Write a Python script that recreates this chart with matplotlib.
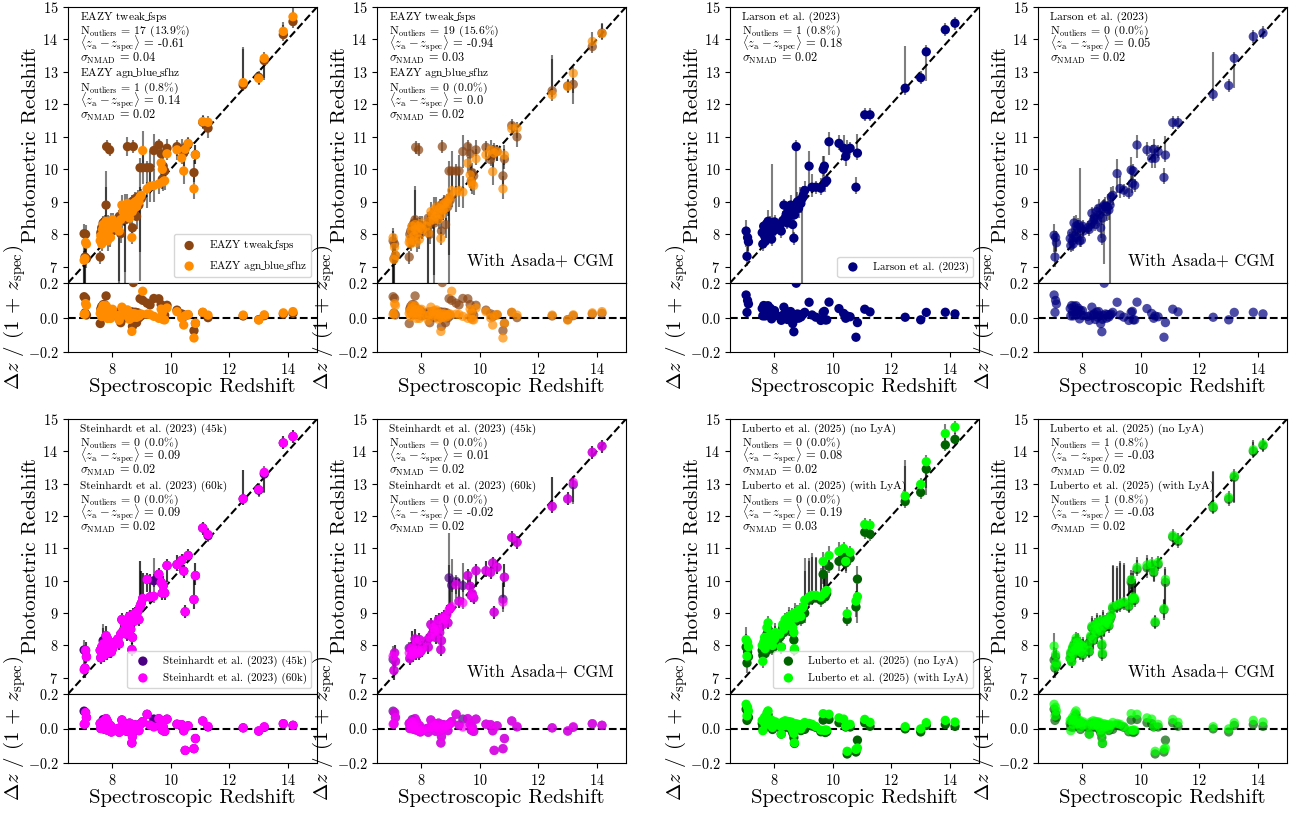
import numpy as np
import matplotlib
matplotlib.use('Agg')
import matplotlib.pyplot as plt

plt.rcParams['font.family'] = 'serif'
plt.rcParams['font.serif'] = ['cmr10']
plt.rcParams['mathtext.fontset'] = 'cm'
plt.rcParams['axes.formatter.use_mathtext'] = True
plt.rcParams['axes.unicode_minus'] = True

# spectroscopic redshifts (shared by all panels)
z_spec = [7.05, 7.08, 7.10, 7.13, 7.60, 7.62, 7.65, 7.68, 7.70, 7.73, 7.76, 7.80, 7.82, 7.85, 7.88,
          7.92, 7.95, 7.98, 8.02, 8.05, 8.20, 8.25, 8.30, 8.34, 8.38, 8.42, 8.46, 8.50, 8.53, 8.57,
          8.60, 8.64, 8.68, 8.70, 8.73, 8.76, 8.80, 8.84, 8.88, 8.92, 8.96, 9.00, 9.05, 9.20, 9.30,
          9.43, 9.60, 9.68, 9.72, 9.75, 9.80, 9.88, 10.22, 10.38, 10.45, 10.50, 10.60, 10.80, 10.85, 11.10,
          11.28, 12.48, 13.01, 13.20, 13.85, 14.18]

# EAZY
eazy_tweak = [8.02, 7.30, 8.00, 7.25, 7.30, 8.05, 8.20, 7.90, 8.35, 8.10, 8.40, 8.90, 10.70, 8.30, 8.05,
              10.60, 8.20, 8.35, 8.10, 8.30, 8.40, 8.55, 8.02, 8.50, 8.70, 8.60, 8.45, 8.80, 10.70, 8.75,
              8.90, 8.65, 9.00, 8.20, 10.70, 8.85, 9.10, 8.55, 9.15, 8.90, 10.05, 9.10, 10.05, 10.05, 10.05,
              10.58, 10.75, 10.48, 9.70, 10.10, 9.95, 10.65, 10.70, 10.62, 10.50, 10.65, 10.78, 9.90, 10.45, 11.45,
              11.27, 12.60, 12.84, 13.35, 14.15, 14.55]
eazy_agn = [7.20, 7.25, 7.75, 7.70, 7.80, 7.95, 7.70, 8.15, 8.30, 7.85, 8.00, 8.40, 8.20, 7.80, 8.10,
            8.35, 7.90, 8.25, 8.45, 8.20, 8.30, 8.10, 8.45, 8.90, 8.70, 8.55, 8.85, 8.65, 8.95, 8.75,
            8.50, 8.85, 7.90, 8.70, 8.95, 8.80, 9.00, 8.85, 9.05, 9.00, 9.15, 9.20, 10.58, 9.40, 9.48,
            9.50, 9.55, 10.20, 10.00, 9.62, 9.65, 10.48, 10.60, 10.35, 9.95, 10.62, 10.80, 9.40, 10.45, 11.47,
            11.45, 12.67, 12.80, 13.42, 14.25, 14.70]
eazy_tweak_asada = [7.80, 7.25, 7.70, 7.35, 7.30, 8.00, 8.10, 7.85, 8.25, 8.00, 8.35, 8.45, 10.68, 8.20, 8.00,
                    10.60, 8.10, 8.25, 8.05, 8.20, 8.30, 8.50, 8.00, 8.40, 8.60, 8.50, 8.35, 8.70, 8.60, 8.65,
                    8.80, 8.55, 8.90, 8.10, 10.70, 8.75, 9.00, 8.30, 9.05, 8.85, 9.95, 9.05, 9.95, 9.95, 9.95,
                    10.55, 10.70, 10.48, 9.65, 9.90, 9.80, 10.60, 10.68, 10.30, 10.45, 10.60, 10.55, 9.80, 10.32, 11.35,
                    11.00, 12.42, 12.57, 12.62, 13.78, 14.20]
eazy_agn_asada = [7.90, 7.22, 7.60, 7.35, 7.75, 7.85, 7.70, 8.10, 8.25, 7.80, 7.95, 8.30, 8.15, 7.75, 8.05,
                  8.25, 7.85, 8.20, 8.35, 8.15, 8.25, 8.05, 8.40, 8.70, 8.60, 8.45, 8.75, 8.55, 8.85, 8.65,
                  8.45, 8.80, 7.87, 8.60, 8.90, 8.75, 8.95, 8.80, 9.00, 8.95, 9.10, 9.15, 9.35, 9.30, 9.35,
                  9.30, 10.19, 9.83, 9.62, 9.55, 9.50, 10.33, 10.45, 10.60, 9.93, 10.50, 10.55, 9.40, 10.44, 11.25,
                  11.27, 12.30, 12.55, 12.96, 13.94, 14.18]
eazy_lo = [1.6, 0.8, 0.3, 0.3, 0.2, 0.3, 0.2, 0.2, 0.3, 0.2, 0.3, 0.6, 0.2, 0.3, 0.2,
           0.2, 0.3, 0.2, 0.2, 0.3, 0.2, 2.0, 0.3, 0.3, 0.2, 0.3, 2.0, 0.2, 0.3, 0.2,
           0.3, 0.2, 0.2, 0.3, 0.2, 0.3, 0.2, 0.4, 0.2, 0.3, 2.6, 0.2, 0.5, 0.6, 0.5,
           0.5, 0.3, 0.4, 0.3, 0.3, 0.3, 0.2, 0.3, 0.2, 0.4, 0.2, 0.3, 0.3, 0.3, 0.2,
           0.3, 0.2, 0.2, 0.6, 0.2, 0.2]
eazy_hi = [0.3, 0.4, 0.3, 0.2, 0.2, 0.3, 0.3, 0.2, 0.2, 0.3, 0.2, 1.05, 0.2, 0.3, 0.2,
           0.2, 0.2, 0.3, 0.2, 0.2, 0.2, 0.2, 0.2, 0.3, 0.2, 0.2, 0.4, 0.3, 0.3, 0.2,
           0.2, 0.3, 0.2, 0.2, 0.2, 0.3, 0.2, 0.2, 0.2, 0.2, 0.3, 0.2, 0.6, 0.2, 0.5,
           0.5, 0.2, 0.3, 0.5, 0.3, 0.2, 0.3, 0.2, 0.3, 0.3, 0.2, 0.2, 0.4, 0.3, 0.2,
           0.2, 1.1, 0.2, 0.2, 0.3, 0.3]

# Larson et al. (2023)
larson = [8.10, 7.32, 7.90, 7.77, 8.05, 7.70, 8.25, 7.95, 7.78, 8.30, 8.05, 8.40, 7.95, 8.20, 8.35,
          7.85, 8.30, 8.10, 8.38, 8.15, 8.25, 8.10, 8.42, 8.90, 8.50, 8.62, 8.35, 8.80, 8.55, 8.90,
          8.70, 8.30, 7.88, 8.60, 8.85, 10.70, 9.00, 8.80, 9.05, 8.95, 9.10, 9.20, 9.35, 10.10, 9.45,
          9.45, 9.42, 10.00, 10.10, 9.60, 9.65, 10.85, 10.80, 10.65, 10.40, 10.60, 10.65, 9.45, 10.50, 11.68,
          11.68, 12.50, 12.82, 13.62, 14.30, 14.50]
larson_asada = [7.97, 7.30, 7.90, 7.74, 7.87, 7.65, 8.04, 7.80, 7.70, 8.35, 7.95, 8.25, 7.90, 8.15, 8.30,
                7.80, 8.20, 7.82, 8.25, 8.10, 8.20, 8.15, 8.30, 8.65, 8.40, 8.50, 8.30, 8.70, 8.45, 8.80,
                8.60, 8.20, 7.88, 8.50, 8.85, 8.90, 8.85, 8.70, 8.85, 8.75, 8.90, 9.15, 9.20, 9.87, 9.41,
                9.36, 9.28, 9.98, 9.57, 9.95, 9.51, 10.75, 10.60, 10.34, 10.62, 10.34, 10.55, 9.75, 10.44, 11.44,
                11.44, 12.31, 12.58, 13.42, 14.09, 14.20]
larson_lo = [0.5, 0.3, 0.4, 0.3, 0.2, 0.2, 0.3, 0.2, 0.2, 0.3, 0.2, 0.3, 0.2, 0.2, 0.3,
             0.2, 0.4, 0.2, 0.3, 0.2, 0.2, 0.2, 0.2, 0.3, 0.2, 0.3, 0.2, 0.3, 0.2, 0.2,
             0.2, 0.3, 0.2, 0.2, 0.3, 1.8, 0.2, 0.3, 0.2, 0.3, 2.6, 0.2, 0.3, 0.6, 0.3,
             0.2, 0.2, 0.3, 0.3, 0.3, 0.2, 0.4, 0.2, 0.3, 0.3, 0.3, 0.2, 0.2, 0.2, 0.2,
             0.2, 0.2, 0.2, 0.9, 0.2, 0.2]
larson_hi = [0.35, 0.3, 0.2, 0.2, 0.2, 0.2, 0.2, 0.3, 0.2, 0.2, 0.2, 0.35, 0.2, 0.3, 0.2,
             0.2, 1.85, 0.2, 0.2, 0.2, 0.2, 0.2, 0.3, 0.2, 0.2, 0.2, 0.3, 0.2, 0.2, 0.3,
             0.2, 0.2, 0.2, 0.2, 0.2, 0.2, 0.3, 0.2, 0.4, 0.2, 0.3, 0.3, 0.3, 0.45, 0.4,
             0.2, 0.3, 0.4, 0.3, 0.2, 0.2, 0.3, 0.25, 0.4, 0.3, 0.3, 0.2, 0.3, 0.6, 0.2,
             0.2, 1.3, 0.2, 0.2, 0.2, 0.2]

# Steinhardt et al. (2023)
stein_60k = [7.25, 7.30, 7.85, 7.65, 7.85, 7.62, 7.95, 7.75, 8.05, 7.70, 7.90, 8.30, 7.75, 8.20, 7.95,
             7.80, 8.10, 7.80, 7.90, 8.00, 8.20, 8.05, 8.35, 8.80, 8.45, 8.70, 8.55, 8.35, 8.75, 8.60,
             8.90, 8.50, 7.87, 8.25, 8.95, 8.75, 9.00, 8.90, 9.05, 8.80, 9.20, 9.30, 9.45, 10.04, 9.50,
             9.52, 10.20, 9.95, 9.62, 9.85, 9.62, 10.47, 10.50, 10.63, 10.30, 9.04, 10.78, 9.42, 10.16, 11.63,
             11.43, 12.53, 12.82, 13.35, 14.26, 14.46]
stein_45k = [7.86, 7.30, 7.85, 7.65, 7.85, 7.62, 7.95, 7.75, 8.15, 7.70, 7.90, 8.30, 7.75, 8.20, 7.95,
             7.80, 8.10, 7.80, 7.90, 8.00, 8.20, 8.05, 8.35, 8.80, 8.45, 8.70, 8.55, 8.35, 8.75, 8.60,
             8.90, 8.50, 7.87, 8.25, 8.95, 8.75, 9.00, 8.90, 9.05, 8.80, 9.20, 9.30, 9.45, 10.04, 9.50,
             10.00, 10.20, 9.95, 9.62, 9.85, 9.62, 10.47, 10.50, 10.63, 10.30, 9.04, 10.78, 9.42, 10.16, 11.63,
             11.39, 12.53, 12.80, 13.30, 14.26, 14.46]
stein_60k_asada = [7.67, 7.23, 7.77, 7.51, 7.77, 7.60, 7.90, 7.70, 7.95, 7.70, 7.85, 8.20, 7.75, 8.10, 7.85,
                   7.75, 8.18, 7.80, 7.85, 7.95, 8.15, 7.95, 8.25, 8.65, 8.35, 8.55, 8.45, 8.25, 8.65, 8.50,
                   8.80, 8.40, 7.87, 8.15, 8.85, 8.65, 8.90, 8.80, 8.95, 8.70, 9.10, 9.15, 9.20, 9.88, 9.37,
                   9.32, 10.16, 9.83, 9.54, 9.60, 9.47, 10.31, 10.31, 10.26, 10.55, 9.03, 10.42, 9.34, 10.11, 11.34,
                   11.19, 12.30, 12.53, 13.04, 13.97, 14.16]
stein_45k_asada = [7.57, 7.23, 7.77, 7.51, 7.92, 7.60, 7.90, 7.70, 7.95, 7.70, 7.85, 8.20, 7.75, 8.10, 7.85,
                   7.75, 8.18, 7.80, 7.85, 7.95, 8.15, 7.95, 8.25, 8.65, 8.35, 8.55, 8.45, 8.25, 8.65, 8.50,
                   8.80, 8.40, 7.87, 8.15, 8.85, 8.65, 8.90, 8.80, 8.95, 8.70, 10.09, 9.15, 9.86, 9.98, 9.37,
                   9.85, 10.16, 9.83, 9.54, 9.60, 9.47, 10.31, 10.31, 10.26, 10.55, 9.03, 10.42, 9.43, 10.11, 11.34,
                   11.19, 12.30, 12.53, 12.97, 13.97, 14.16]
stein_lo = [0.2, 0.3, 0.3, 0.2, 0.2, 0.2, 0.2, 0.2, 0.2, 0.2, 0.2, 0.3, 0.2, 0.2, 0.2,
            0.2, 0.2, 0.2, 0.2, 0.2, 0.2, 0.2, 0.2, 0.2, 0.2, 0.3, 0.2, 0.2, 0.2, 0.2,
            0.2, 0.2, 0.2, 0.2, 0.2, 0.2, 0.2, 0.2, 0.2, 0.2, 0.2, 0.2, 0.2, 0.4, 0.2,
            0.2, 0.3, 0.2, 0.2, 0.2, 0.2, 0.5, 0.2, 0.2, 0.2, 0.2, 0.2, 0.3, 0.3, 0.2,
            0.2, 0.2, 0.2, 0.6, 0.2, 0.2]
stein_hi = [0.3, 0.3, 0.25, 0.2, 0.2, 0.2, 0.2, 0.2, 0.5, 0.2, 0.2, 0.3, 0.2, 0.2, 0.2,
            0.2, 0.2, 0.2, 0.2, 0.2, 0.2, 0.2, 0.3, 0.2, 0.2, 0.2, 0.2, 0.2, 0.3, 0.2,
            0.2, 0.2, 0.2, 0.2, 0.2, 0.2, 0.2, 0.2, 0.3, 0.2, 1.4, 1.0, 0.8, 0.2, 0.7,
            0.7, 0.2, 0.3, 0.2, 0.3, 0.2, 0.2, 0.3, 0.2, 0.2, 0.2, 0.2, 0.6, 0.4, 0.2,
            0.2, 0.9, 0.2, 0.2, 0.2, 0.2]

# Luberto et al. (2025)
lub_no = [7.95, 7.46, 7.80, 7.65, 7.85, 7.70, 7.95, 8.10, 7.75, 8.00, 8.35, 8.50, 7.95, 8.15, 8.05,
          8.25, 7.90, 8.20, 8.10, 8.30, 8.25, 7.95, 8.55, 8.40, 8.65, 8.50, 8.70, 8.60, 8.80, 8.55,
          8.85, 8.40, 8.17, 7.86, 8.90, 8.75, 8.95, 8.85, 9.00, 8.80, 9.05, 9.10, 9.00, 9.40, 9.45,
          9.50, 9.40, 10.20, 9.55, 9.50, 9.60, 10.45, 10.60, 10.70, 10.55, 8.80, 10.70, 9.19, 10.05, 11.50,
          11.44, 12.45, 12.73, 13.45, 14.20, 14.37]
lub_lya = [8.18, 7.67, 8.10, 7.96, 8.00, 7.51, 8.10, 8.25, 7.90, 8.15, 8.55, 8.70, 8.05, 8.30, 8.15,
           8.35, 8.00, 8.30, 8.20, 8.40, 8.35, 7.95, 8.65, 8.50, 8.80, 8.60, 8.85, 8.70, 8.90, 8.65,
           8.95, 8.55, 8.40, 7.90, 9.00, 8.85, 9.05, 8.95, 9.10, 8.90, 9.15, 9.20, 9.40, 9.50, 9.55,
           9.55, 9.50, 10.60, 9.60, 9.65, 9.70, 10.78, 10.91, 11.00, 10.60, 8.98, 10.88, 9.37, 9.51, 11.74,
           11.72, 12.62, 12.98, 13.68, 14.55, 14.75]
lub_lya_asada = [7.98, 7.36, 7.72, 7.46, 7.62, 7.80, 7.50, 7.95, 7.75, 8.05, 7.85, 8.23, 7.90, 8.10, 7.95,
                 8.05, 7.80, 8.00, 7.75, 7.95, 8.05, 7.85, 8.30, 8.60, 8.20, 8.50, 8.65, 8.40, 8.70, 8.55,
                 8.75, 8.45, 8.05, 7.77, 8.80, 8.60, 8.75, 8.70, 8.80, 8.65, 8.85, 8.95, 9.20, 9.25, 9.30,
                 9.35, 9.25, 10.04, 9.45, 9.50, 9.45, 10.42, 10.49, 10.53, 10.30, 8.74, 10.57, 9.14, 10.04, 11.40,
                 11.28, 12.30, 12.58, 13.25, 14.05, 14.22]
lub_no_asada = [7.55, 7.30, 7.65, 7.40, 7.60, 7.75, 7.50, 7.90, 7.70, 8.00, 7.80, 8.15, 7.85, 8.05, 7.90,
                8.00, 7.75, 7.95, 7.70, 7.90, 8.00, 7.80, 8.25, 8.55, 8.15, 8.45, 8.60, 8.35, 8.65, 8.50,
                8.70, 8.40, 8.00, 7.72, 8.75, 8.55, 8.70, 8.65, 8.75, 8.60, 8.80, 8.90, 9.15, 9.20, 9.25,
                9.30, 9.20, 9.95, 9.40, 9.45, 9.40, 10.35, 10.40, 10.45, 10.25, 8.70, 10.50, 9.10, 9.95, 11.35,
                11.22, 12.25, 12.52, 13.20, 14.00, 14.18]
lub_lo = [0.3, 0.3, 0.3, 0.2, 0.2, 0.2, 0.2, 0.3, 0.2, 0.2, 0.3, 0.2, 0.2, 0.2, 0.3,
          0.2, 0.2, 0.3, 0.2, 0.2, 0.2, 0.2, 0.3, 0.2, 0.3, 0.2, 0.2, 0.3, 0.2, 0.2,
          0.3, 0.2, 0.3, 0.2, 0.2, 0.3, 0.2, 0.2, 0.3, 0.2, 0.3, 0.2, 0.3, 0.2, 0.2,
          0.2, 0.2, 0.3, 0.2, 0.2, 0.2, 0.2, 0.3, 0.3, 0.3, 0.2, 0.2, 0.3, 0.8, 0.2,
          0.2, 0.2, 0.2, 0.8, 0.2, 0.2]
lub_hi = [0.4, 0.3, 0.2, 0.2, 0.2, 0.3, 0.2, 0.3, 0.2, 0.2, 0.2, 0.2, 0.2, 0.3, 0.2,
          0.2, 0.2, 0.2, 0.2, 0.3, 0.2, 0.2, 0.2, 0.3, 0.2, 0.3, 0.2, 0.2, 0.3, 0.2,
          0.2, 0.3, 0.2, 0.2, 0.3, 0.2, 0.2, 0.3, 0.2, 0.3, 0.2, 0.3, 1.3, 1.2, 1.3,
          1.2, 0.9, 0.3, 0.7, 0.8, 0.6, 0.3, 0.3, 0.2, 0.3, 0.2, 0.2, 0.3, 0.4, 0.2,
          0.2, 1.1, 0.2, 0.2, 0.3, 0.2]

# colours and labels
c_tweak, c_agn = '#8B4513', '#FF8C00'
c_larson = '#000080'
c_45k, c_60k = '#4B0082', '#FF00FF'
c_lubno, c_lublya = '#006400', '#00FF00'

lab_tweak, lab_agn = r'EAZY tweak$\!\_\!$fsps', r'EAZY agn$\!\_\!$blue$\!\_\!$sfhz'
lab_larson = 'Larson et al. (2023)'
lab_45k, lab_60k = 'Steinhardt et al. (2023) (45k)', 'Steinhardt et al. (2023) (60k)'
lab_lubno, lab_lublya = 'Luberto et al. (2025) (no LyA)', 'Luberto et al. (2025) (with LyA)'

# font size of each line in a stats block: name, N_outliers, bias, sigma
line_sizes = [8.2, 8.5, 9.0, 8.8]


def stats(name, nout, bias, nmad):
    return [name,
            r'N$_{\rm outliers}$ = ' + nout,
            r'$\langle z_{\rm a} - z_{\rm spec} \rangle$ = ' + bias,
            r'$\sigma_{\rm NMAD}$ = ' + nmad]


W, H = 1299, 814
fig = plt.figure(figsize=(W / 100, H / 100), dpi=100)

col_left = [68, 377, 730, 1038]
row_y = [(7, 283, 352), (419, 694, 763)]
pw = 249

panels = [
    # (row, col, series [(z_phot, base z_phot, colour, label)], errors, texts, asada)
    (0, 0, [(eazy_tweak, eazy_tweak, c_tweak, lab_tweak), (eazy_agn, eazy_agn, c_agn, lab_agn)],
     (eazy_lo, eazy_hi), stats(lab_tweak, '17 (13.9%)', '-0.61', '0.04') + stats(lab_agn, '1 (0.8%)', '0.14', '0.02'), False),
    (0, 1, [(eazy_tweak_asada, eazy_tweak, c_tweak, lab_tweak), (eazy_agn_asada, eazy_agn, c_agn, lab_agn)],
     (eazy_lo, eazy_hi), stats(lab_tweak, '19 (15.6%)', '-0.94', '0.03') + stats(lab_agn, '0 (0.0%)', '0.0', '0.02'), True),
    (0, 2, [(larson, larson, c_larson, lab_larson)],
     (larson_lo, larson_hi), stats(lab_larson, '1 (0.8%)', '0.18', '0.02'), False),
    (0, 3, [(larson_asada, larson, c_larson, lab_larson)],
     (larson_lo, larson_hi), stats(lab_larson, '0 (0.0%)', '0.05', '0.02'), True),
    (1, 0, [(stein_45k, stein_45k, c_45k, lab_45k), (stein_60k, stein_60k, c_60k, lab_60k)],
     (stein_lo, stein_hi), stats(lab_45k, '0 (0.0%)', '0.09', '0.02') + stats(lab_60k, '0 (0.0%)', '0.09', '0.02'), False),
    (1, 1, [(stein_45k_asada, stein_45k, c_45k, lab_45k), (stein_60k_asada, stein_60k, c_60k, lab_60k)],
     (stein_lo, stein_hi), stats(lab_45k, '0 (0.0%)', '0.01', '0.02') + stats(lab_60k, '0 (0.0%)', '-0.02', '0.02'), True),
    (1, 2, [(lub_no, lub_no, c_lubno, lab_lubno), (lub_lya, lub_lya, c_lublya, lab_lublya)],
     (lub_lo, lub_hi), stats(lab_lubno, '0 (0.0%)', '0.08', '0.02') + stats(lab_lublya, '0 (0.0%)', '0.19', '0.03'), False),
    (1, 3, [(lub_no_asada, lub_no, c_lubno, lab_lubno), (lub_lya_asada, lub_lya, c_lublya, lab_lublya)],
     (lub_lo, lub_hi), stats(lab_lubno, '1 (0.8%)', '-0.03', '0.02') + stats(lab_lublya, '1 (0.8%)', '-0.03', '0.02'), True),
]

zs = np.array(z_spec)
lims = (6.5, 15)

for row, col, series, (elo, ehi), texts, asada in panels:
    top, mid, bot = row_y[row]
    x0 = col_left[col] / W
    ax = fig.add_axes([x0, 1 - mid / H, pw / W, (mid - top) / H])
    axr = fig.add_axes([x0, 1 - bot / H, pw / W, (bot - mid) / H], sharex=ax)
    alpha = 0.7 if asada else 1.0

    for zp, base, color, label in series:
        ax.errorbar(zs, zp, yerr=[elo, ehi], fmt='none', ecolor='k', alpha=0.5, elinewidth=1.5, zorder=1)
    for zp, base, color, label in series:
        ax.scatter(zs, zp, s=45, color=color, alpha=alpha, label=label, zorder=3, edgecolors='none')
        # residuals always from the default run
        resid = (np.array(base) - zs) / (1 + zs)
        axr.scatter(zs, resid, s=45, color=color, alpha=alpha, zorder=3, edgecolors='none')

    ax.plot(lims, lims, 'k--', lw=1.5, zorder=2)
    axr.axhline(0, color='k', ls='--', lw=1.5, zorder=2)
    ax.set_xlim(lims)
    ax.set_ylim(lims)
    ax.set_yticks(range(7, 16))
    axr.set_ylim(-0.2, 0.2)
    axr.set_yticks([-0.2, 0.0, 0.2])
    axr.set_xticks([8, 10, 12, 14])
    ax.tick_params(labelbottom=False, labelsize=10.3)
    axr.tick_params(labelsize=10.3)

    for i, line in enumerate(texts):
        ax.annotate(line, xy=(0.05, 1), xycoords='axes fraction',
                    xytext=(0, -13 - 14.1 * i), textcoords='offset pixels',
                    ha='left', va='baseline', fontsize=line_sizes[i % 4])
    if asada:
        ax.text(0.95, 0.05, 'With Asada+ CGM', transform=ax.transAxes, ha='right', va='bottom', fontsize=12)
    else:
        ax.legend(loc='lower right', fontsize=8, framealpha=0.8)

    ax.set_ylabel('Photometric Redshift', fontsize=15)
    axr.set_ylabel(r'$\Delta z$ / (1 + $z_{\rm spec}$)', fontsize=15)
    ax.yaxis.set_label_coords(-0.113, 0.5)
    axr.yaxis.set_label_coords(-0.16, 0.5)
    axr.set_xlabel('Spectroscopic Redshift', fontsize=15, labelpad=1)

fig.savefig('out.png', dpi=100)
